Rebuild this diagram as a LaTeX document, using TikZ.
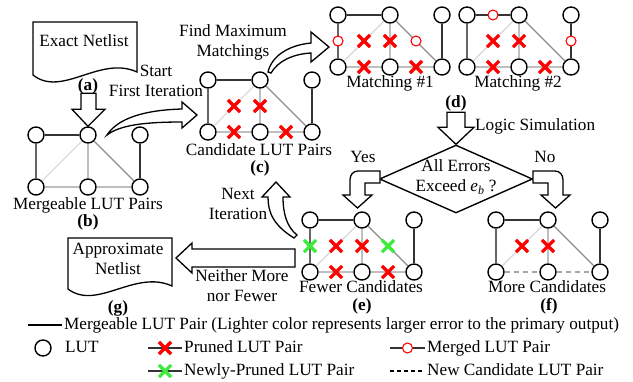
\documentclass[tikz,border=0pt]{standalone}
\usepackage{fontspec}
\setmainfont{Liberation Serif}
\usetikzlibrary{shapes.geometric,shapes.misc}
\definecolor{prunedred}{RGB}{255,0,0}
\definecolor{newgreen}{RGB}{60,235,60}

\begin{document}
\begin{tikzpicture}[x=1bp,y=-1bp,
        every node/.style={font=\fontsize{17.2bp}{20bp}\selectfont,inner sep=0pt},
        lbl/.style={text height=11bp,text depth=3bp},
        lut/.style={circle,draw,line width=1.4bp,minimum size=16bp,fill=white},
        pairA/.style={line width=1.4bp,black!80},
        pairB/.style={line width=1.4bp,black!60},
        pairC/.style={line width=1.4bp,black!45},
        pairD/.style={line width=1.4bp,black!25},
        pairE/.style={line width=1.4bp,black!14},
        newpair/.style={line width=1.4bp,black!35,dash pattern=on 5bp off 4bp},
        pruned/.style={cross out,draw=prunedred,line width=3.2bp,minimum size=9bp},
        newpruned/.style={cross out,draw=newgreen,line width=3.2bp,minimum size=9bp},
        merged/.style={circle,draw=prunedred,line width=1.1bp,minimum size=10bp,fill=white},
        blockarrow/.style={draw,line width=1.3bp,fill=white},
        docshape/.style={draw,line width=1.3bp,fill=white}]
        \useasboundingbox (0,0) rectangle (633,381);

        % netlists
        \draw[docshape] (33,22) -- (137,22) -- (137,72) .. controls (100,55) and (62,98) .. (33,75) -- cycle;
        \node[lbl] (exact) at (84,42) {Exact Netlist};
        \draw[docshape] (68,238) -- (172,238) -- (172,286) .. controls (135,269) and (97,311) .. (68,289) -- cycle;
        \node[align=center] (approx) at (118,259) {Approximate\\Netlist};

        % LUT graphs
        \foreach \g/\x/\y in {b/36/135,c/208/80,m/338/15,n/467/15,e/310/220,f/496/220} {
            \node[lut] (\g1) at (\x,\y) {};
            \node[lut] (\g2) at (\x+52,\y) {};
            \node[lut] (\g3) at (\x+104,\y) {};
            \node[lut] (\g4) at (\x,\y+52) {};
            \node[lut] (\g5) at (\x+52,\y+52) {};
            \node[lut] (\g6) at (\x+104,\y+52) {};
            \draw[pairA] (\g1) -- (\g2);
            \draw[pairB] (\g1) -- (\g4);
            \draw[pairE] (\g2) -- (\g4);
            \draw[pairD] (\g2) -- (\g5);
            \draw[pairC] (\g2) -- (\g6);
            \draw[pairA] (\g3) -- (\g6);
        }
        \foreach \g in {b,c,m,n,e} {
            \draw[pairD] (\g4) -- (\g5);
            \draw[pairD] (\g5) -- (\g6);
        }
        \draw[newpair] (f4) -- (f5);
        \draw[newpair] (f5) -- (f6);

        % pruned and merged pairs
        \foreach \g in {c,m,n,e} {
            \path (\g2) -- node[pruned] (\g-x1) {} (\g4)
                  (\g2) -- node[pruned] (\g-x2) {} (\g5)
                  (\g4) -- node[pruned] (\g-x3) {} (\g5)
                  (\g5) -- node[pruned] (\g-x4) {} (\g6);
        }
        \path (f2) -- node[pruned] (f-x1) {} (f4)
              (f2) -- node[pruned] (f-x2) {} (f5);
        \path (m1) -- node[merged] (m-o1) {} (m4)
              (m2) -- node[merged] (m-o2) {} (m6);
        \path (n1) -- node[merged] (n-o1) {} (n2)
              (n3) -- node[merged] (n-o2) {} (n6);
        \path (e1) -- node[newpruned] (e-y1) {} (e4)
              (e2) -- node[newpruned] (e-y2) {} (e6);

        % decision
        \node[diamond,draw,line width=1.4bp,minimum width=153bp,minimum height=68bp] (check) at (456,179) {};
        \node[align=center] (errors) at (456,177) {All Errors\\Exceed \textit{e}\textsubscript{\textit{b}} ?};

        % block arrows
        \draw[blockarrow] (b2.north) -- ++(-16,-17) -- ++(9,0) -- ++(0,-16) -- ++(15,0) -- ++(0,16) -- ++(9,0) -- cycle;
        \draw[blockarrow] (check.north) -- ++(-18,-17) -- ++(9,0) -- ++(0,-15) -- ++(18,0) -- ++(0,15) -- ++(9,0) -- cycle;
        \draw[blockarrow] (107,135) .. controls (118,118) and (145,110) .. (182,109) -- (182,102) -- (197,115) -- (182,128) -- (182,122) .. controls (145,122) and (120,125) .. (107,135) -- cycle;
        \draw[blockarrow] (268,72) .. controls (272,55) and (290,45) .. (311,43) -- (311,32) -- (329,47) -- (311,62) -- (311,53) .. controls (293,54) and (278,61) .. (271,73) -- cycle;
        \draw[blockarrow] (380,171) -- (358,171) .. controls (353,171) and (350,175) .. (350,180) -- (350,195) -- (343,195) -- (357.5,208) -- (372,195) -- (365,195) -- (365,183) -- (380,183) -- cycle;
        \draw[blockarrow] (533,171) -- (555,171) .. controls (560,171) and (563,175) .. (563,180) -- (563,195) -- (570,195) -- (555.5,208) -- (541,195) -- (548,195) -- (548,183) -- (533,183) -- cycle;
        \draw[blockarrow] (294,238) .. controls (273,225) and (268,212) .. (268,197) -- (262,197) -- (276,182) -- (290,197) -- (283,197) .. controls (283,214) and (287,227) .. (297,235) -- cycle;
        \draw[blockarrow] (176,258) -- (192,243) -- (192,249) -- (295,249) -- (295,267) -- (192,267) -- (192,273) -- cycle;

        % texts
        \node[lbl] (lab-a) at (88,86) {\textbf{(a)}};
        \node[lbl] (lab-b) at (88,222) {\textbf{(b)}};
        \node[lbl] (lab-c) at (260,168) {\textbf{(c)}};
        \node[lbl] (lab-d) at (456,103) {\textbf{(d)}};
        \node[lbl] (lab-e) at (362,306) {\textbf{(e)}};
        \node[lbl] (lab-f) at (549,306) {\textbf{(f)}};
        \node[lbl] (lab-g) at (118,308) {\textbf{(g)}};
        \node[lbl] (cap-b) at (88,205) {Mergeable LUT Pairs};
        \node[lbl] (cap-c) at (259,151) {Candidate LUT Pairs};
        \node[lbl] (cap-m) at (390,83) {Matching \#1};
        \node[lbl] (cap-n) at (518,83) {Matching \#2};
        \node[lbl] (cap-e) at (361,288) {Fewer Candidates};
        \node[lbl] (cap-f) at (547,288) {More Candidates};
        \node[align=center] (start) at (156,81) {Start\\First Iteration};
        \node[align=center] (find) at (233,42) {Find Maximum\\Matchings};
        \node[align=center] (next) at (238,204) {Next\\Iteration};
        \node[align=center] (neither) at (242,286) {Neither More\\nor Fewer};
        \node[lbl,anchor=west] (logic) at (475,126) {Logic Simulation};
        \node[lbl] (yes) at (363,158) {Yes};
        \node[lbl] (no) at (545,158) {No};

        % legend
        \draw[line width=1.4bp] (28,325) -- (62,325);
        \node[lbl,anchor=west] (key-pair) at (64,325) {Mergeable LUT Pair (Lighter color represents larger error to the primary output)};
        \node[lut] (key-lut) at (43,348) {};
        \node[lbl,anchor=west] (key-luttext) at (65,348) {LUT};
        \draw[pairA] (148,348) -- node[pruned] (key-x) {} (182,348);
        \node[lbl,anchor=west] (key-xtext) at (184,348) {Pruned LUT Pair};
        \draw[pairA] (390,348) -- node[merged] (key-o) {} (425,348);
        \node[lbl,anchor=west] (key-otext) at (427,348) {Merged LUT Pair};
        \draw[pairA] (148,371) -- node[newpruned] (key-y) {} (182,371);
        \node[lbl,anchor=west] (key-ytext) at (184,371) {Newly-Pruned LUT Pair};
        \draw[line width=1.4bp,dash pattern=on 4bp off 3bp] (390,371) -- (425,371);
        \node[lbl,anchor=west] (key-dtext) at (427,371) {New Candidate LUT Pair};
\end{tikzpicture}
\end{document}
